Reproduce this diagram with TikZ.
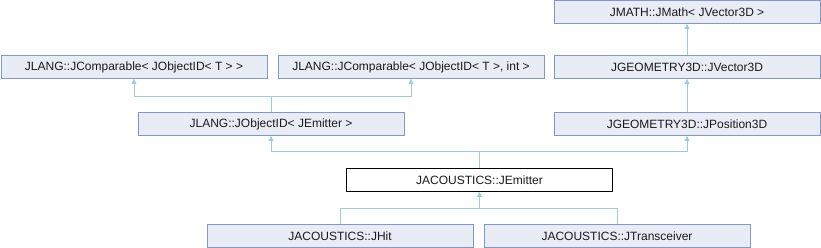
\documentclass[tikz,border=0pt]{standalone}
\usepackage{fontspec}
\setmainfont{Liberation Sans}
\usepackage{xcolor}
\usetikzlibrary{arrows.meta}
\definecolor{ink}{HTML}{1A1A1A}
\definecolor{frame}{HTML}{8497C8}
\definecolor{panel}{HTML}{E8ECF4}
\definecolor{edge}{HTML}{9CCAE8}
\tikzset{
  cls/.style={draw=frame,fill=panel,line width=0.9pt,minimum width=266pt,minimum height=23pt,inner sep=0pt,font=\fontsize{12}{14}\selectfont,text=ink},
  focus/.style={cls,draw=black,fill=white},
  inh/.style={{Triangle[length=5pt,width=5pt]}-,line width=1pt,draw=edge},
  link/.style={line width=1pt,draw=edge}
}

\begin{document}
\begin{tikzpicture}[x=1pt,y=-1pt]
    \useasboundingbox (0,0) rectangle (821,248);

    \node[cls] (jmath) at (687,12) {JMATH::JMath< JVector3D >};
    \node[cls] (vector) at (687,67) {JGEOMETRY3D::JVector3D};
    \node[cls] (position) at (687,124) {JGEOMETRY3D::JPosition3D};
    \node[cls] (compare) at (134,67) {JLANG::JComparable< JObjectID< T > >};
    \node[cls] (compareint) at (411,67) {JLANG::JComparable< JObjectID< T >, int >};
    \node[cls] (objectid) at (271,124) {JLANG::JObjectID< JEmitter >};
    \node[focus] (emitter) at (479.5,180) {JACOUSTICS::JEmitter};
    \node[cls] (hit) at (340,236) {JACOUSTICS::JHit};
    \node[cls] (transceiver) at (617,236) {JACOUSTICS::JTransceiver};

    \coordinate (upid) at (271,97);
    \coordinate (upem) at (479.5,152);
    \coordinate (downem) at (479.5,208);

    \draw[inh] (jmath.south) -- (vector.north);
    \draw[inh] (vector.south) -- (position.north);
    \draw[inh] (compare.south) |- (upid) -- (objectid.north);
    \draw[inh] (compareint.south) |- (upid);
    \draw[inh] (objectid.south) |- (upem) -- (emitter.north);
    \draw[inh] (position.south) |- (upem);
    \draw[inh] (emitter.south) -- (downem) -| (hit.north);
    \draw[link] (downem) -| (transceiver.north);
  \end{tikzpicture}
\end{document}
